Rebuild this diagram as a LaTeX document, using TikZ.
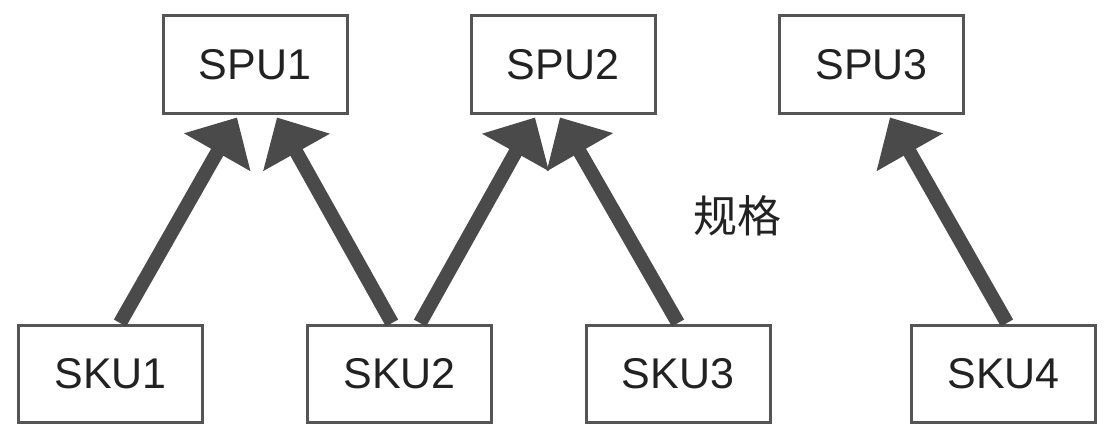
\documentclass[tikz,border=0pt]{standalone}
\usepackage{fontspec}
\setmainfont{Liberation Sans}
\newfontfamily\cjk{Noto Sans CJK SC}
\usetikzlibrary{arrows.meta,calc}
\definecolor{boxline}{HTML}{555555}
\definecolor{arrowgray}{HTML}{4A4A4A}
\definecolor{textdark}{HTML}{222222}
\begin{document}
\begin{tikzpicture}[x=1pt,y=-1pt,
  itembox/.style={draw=boxline, line width=3pt, fill=white, minimum width=184pt, minimum height=97pt, inner sep=0pt, text=textdark, font=\fontsize{43}{50}\selectfont},
  bigarrow/.style={draw=arrowgray, line width=14pt, -{Triangle[length=40pt,width=74pt]}}]
\useasboundingbox (0,0) rectangle (1116,444);
\node[itembox] (SPU1) at (255,64.5) {SPU1};
\node[itembox] (SPU2) at (563,64.5) {SPU2};
\node[itembox] (SPU3) at (871.5,64.5) {SPU3};
\node[itembox] (SKU1) at (110.5,374) {SKU1};
\node[itembox] (SKU2) at (399.5,374) {SKU2};
\node[itembox] (SKU3) at (678,374) {SKU3};
\node[itembox] (SKU4) at (1003.5,374) {SKU4};
\node[text=textdark, font=\cjk\fontsize{44}{50}\selectfont] (spec) at (737,216) {规格};
\draw[bigarrow] ($(SKU1.north)+(9.5,-1)$) -- ($(SPU1.south)+(-18,3)$);
\draw[bigarrow] ($(SKU2.north)+(-7.5,-1)$) -- ($(SPU1.south)+(22,3)$);
\draw[bigarrow] ($(SKU2.north)+(20.5,-1)$) -- ($(SPU2.south)+(-28,3)$);
\draw[bigarrow] ($(SKU3.north)+(0,-1)$) -- ($(SPU2.south)+(-3,3)$);
\draw[bigarrow] ($(SKU4.north)+(3.5,-1)$) -- ($(SPU3.south)+(18.5,3)$);
\end{tikzpicture}
\end{document}
